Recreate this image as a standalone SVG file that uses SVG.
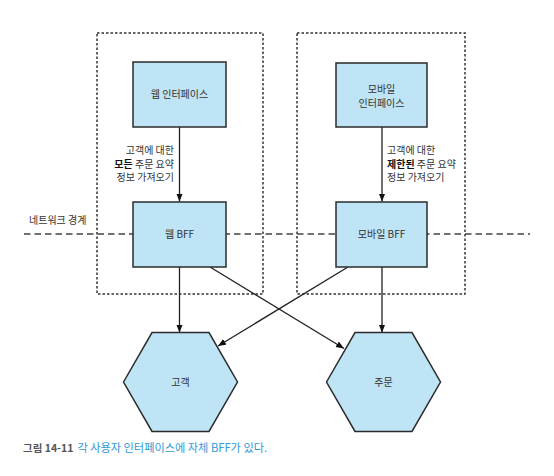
<svg xmlns="http://www.w3.org/2000/svg" width="554" height="476" viewBox="0 0 554 476">
<defs>
<style>
.t{font-family:"Noto Sans CJK KR","Noto Sans",sans-serif;font-size:10px;fill:#333}
.c{text-anchor:middle}
.box{fill:#bfe4f5;stroke:#2b2b2b;stroke-width:1.5}
.dot{fill:none;stroke:#333;stroke-width:1.5;stroke-dasharray:2.5 2}
.net{fill:none;stroke:#444;stroke-width:1.5;stroke-dasharray:6.5 4}
.ln{fill:none;stroke:#222;stroke-width:1.3}
.b{font-weight:bold;fill:#111}
</style>
<marker id="ah" markerUnits="userSpaceOnUse" markerWidth="8" markerHeight="8" viewBox="0 0 8 8" refX="8" refY="4" orient="auto">
<path d="M0,0.8 L8,4 L0,7.2 Z" fill="#111"/>
</marker>
</defs>
<rect width="554" height="476" fill="#fff"/>
<g id="boundaries">
<rect class="dot" x="97" y="33" width="166" height="261"/>
<rect class="dot" x="297" y="33" width="168" height="261"/>
</g>
<g id="network-boundary">
<line class="net" x1="24" y1="234" x2="530" y2="234"/>
<text class="t" x="29" y="224" fill="#444" font-size="10.6">네트워크 경계</text>
</g>
<g id="connectors">
<line class="ln" x1="179.5" y1="127" x2="179.5" y2="201.5" marker-end="url(#ah)"/>
<line class="ln" x1="382" y1="127" x2="382" y2="201.5" marker-end="url(#ah)"/>
<line class="ln" x1="179.5" y1="267" x2="179.5" y2="332.5" marker-end="url(#ah)"/>
<line class="ln" x1="382" y1="267" x2="382" y2="332.5" marker-end="url(#ah)"/>
<line class="ln" x1="210" y1="267" x2="344" y2="348.5" marker-end="url(#ah)"/>
<line class="ln" x1="348" y1="267" x2="218" y2="346" marker-end="url(#ah)"/>
<text class="t" text-anchor="end" x="174" y="154">고객에 대한</text>
<text class="t" text-anchor="end" x="174" y="167.5"><tspan class="b">모든</tspan> 주문 요약</text>
<text class="t" text-anchor="end" x="174" y="181">정보 가져오기</text>
<text class="t" x="387" y="154">고객에 대한</text>
<text class="t" x="387" y="167.5"><tspan class="b">제한된</tspan> 주문 요약</text>
<text class="t" x="387" y="181">정보 가져오기</text>
</g>
<g id="web-interface">
<rect class="box" x="133" y="62" width="93" height="65"/>
<text class="t c" x="179.5" y="98">웹 인터페이스</text>
</g>
<g id="mobile-interface">
<rect class="box" x="336" y="63" width="91" height="64"/>
<text class="t c" x="381.5" y="93">모바일</text>
<text class="t c" x="381.5" y="106.5">인터페이스</text>
</g>
<g id="web-bff">
<rect class="box" x="133" y="202" width="93" height="65"/>
<text class="t c" x="179.5" y="238">웹 BFF</text>
</g>
<g id="mobile-bff">
<rect class="box" x="336" y="202" width="91" height="65"/>
<text class="t c" x="381.5" y="238">모바일 BFF</text>
</g>
<g id="customer">
<polygon class="box" points="123.5,382 152,332.6 209,332.6 237.5,382 209,431.4 152,431.4"/>
<text class="t c" x="180.5" y="385.5">고객</text>
</g>
<g id="order">
<polygon class="box" points="326.5,382 355,332.6 412,332.6 440.5,382 412,431.4 355,431.4"/>
<text class="t c" x="383.5" y="385.5">주문</text>
</g>
<g id="caption">
<text class="t" x="23" y="452"><tspan font-weight="bold" fill="#555" font-size="10.5">그림 14-11</tspan><tspan fill="#2f9ad6" dx="4" font-size="11.2">각 사용자 인터페이스에 자체 BFF가 있다.</tspan></text>
</g>
</svg>
